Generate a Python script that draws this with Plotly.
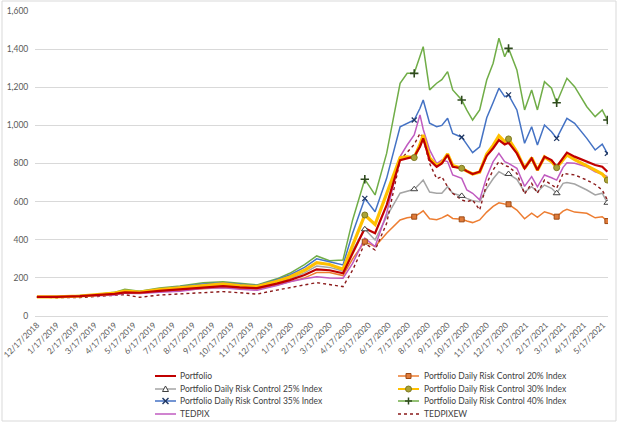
import plotly.graph_objects as go

dates = ["2018-12-17", "2019-01-17", "2019-02-22", "2019-03-17", "2019-04-17", "2019-05-03",
         "2019-05-26", "2019-06-26", "2019-07-28", "2019-09-02", "2019-10-03", "2019-10-29",
         "2019-11-25", "2019-12-26", "2020-01-15", "2020-02-07", "2020-02-26", "2020-03-17",
         "2020-04-07", "2020-04-22", "2020-05-11", "2020-05-27", "2020-06-14", "2020-07-05",
         "2020-07-16", "2020-07-27", "2020-08-05", "2020-08-10", "2020-08-20", "2020-08-31",
         "2020-09-08", "2020-09-17", "2020-09-25", "2020-10-09", "2020-10-17", "2020-10-26",
         "2020-11-06", "2020-11-17", "2020-11-27", "2020-12-06", "2020-12-15", "2020-12-21",
         "2021-01-03", "2021-01-15", "2021-01-26", "2021-02-04", "2021-02-15", "2021-02-26",
         "2021-03-06", "2021-03-16", "2021-03-22", "2021-04-03", "2021-04-22", "2021-05-05",
         "2021-05-16", "2021-05-24"]

# dates where the series markers sit
marker_dates = ["2020-05-11", "2020-07-27", "2020-10-09", "2020-12-21", "2021-03-06", "2021-05-24"]

portfolio = [100, 100, 104, 108, 116, 124, 122, 132, 140, 152, 157, 150, 146, 170, 188, 215, 245, 240,
             224, 329, 460, 434, 582, 818, 827, 836, 888, 932, 818, 783, 800, 845, 783, 775, 760, 745,
             757, 840, 880, 923, 900, 909, 853, 775, 827, 766, 836, 818, 783, 830, 857, 836, 810, 792,
             783, 757]
rc20 = [100, 100, 104, 108, 114, 122, 120, 128, 135, 146, 150, 145, 142, 162, 178, 200, 228, 228,
        212, 300, 390, 364, 434, 504, 515, 521, 540, 552, 510, 505, 515, 530, 512, 507, 498, 490,
        504, 545, 575, 594, 588, 586, 556, 510, 539, 518, 547, 535, 521, 550, 560, 545, 539, 515,
        521, 498]
rc25 = [100, 100, 105, 109, 118, 127, 124, 134, 143, 157, 162, 155, 150, 176, 196, 226, 262, 255,
        236, 345, 455, 399, 521, 644, 655, 665, 695, 713, 650, 644, 644, 678, 644, 630, 617, 605,
        600, 670, 720, 757, 740, 745, 717, 650, 678, 652, 687, 670, 644, 696, 700, 692, 661, 635,
        644, 594]
rc30 = [100, 100, 105, 110, 120, 130, 126, 138, 148, 162, 168, 160, 154, 182, 205, 240, 280, 270,
        245, 370, 530, 480, 640, 830, 835, 831, 900, 950, 830, 790, 805, 850, 790, 775, 760, 745,
        755, 850, 895, 945, 915, 929, 860, 775, 830, 765, 835, 810, 778, 820, 845, 820, 790, 765,
        745, 713]
rc35 = [100, 101, 106, 111, 122, 134, 128, 142, 153, 168, 174, 166, 160, 190, 215, 255, 300, 285,
        268, 434, 617, 547, 722, 993, 1010, 1028, 1090, 1133, 1011, 993, 1000, 1037, 958, 938, 900, 857,
        888, 1040, 1120, 1195, 1151, 1160, 1081, 906, 993, 897, 1002, 967, 932, 1000, 1037, 1011, 932, 871,
        902, 853]
rc40 = [100, 101, 107, 112, 124, 140, 130, 147, 158, 174, 180, 171, 163, 195, 224, 270, 315, 290,
        294, 504, 717, 635, 853, 1221, 1273, 1273, 1360, 1413, 1186, 1221, 1240, 1282, 1186, 1133, 1080, 1028,
        1081, 1238, 1326, 1457, 1360, 1404, 1291, 1081, 1186, 1081, 1229, 1195, 1119, 1200, 1247, 1203, 1098, 1046,
        1081, 1028]
tedpix = [100, 99, 102, 105, 110, 120, 118, 124, 130, 145, 148, 140, 135, 160, 180, 195, 206, 200,
          198, 276, 408, 364, 539, 836, 897, 950, 1055, 980, 871, 800, 818, 810, 740, 722, 661, 644,
          609, 731, 810, 853, 810, 801, 775, 680, 731, 678, 740, 725, 713, 780, 804, 801, 783, 757,
          745, 731]
tedpixew = [100, 96, 97, 101, 108, 112, 98, 110, 116, 124, 128, 122, 115, 136, 149, 165, 175, 165,
            154, 241, 381, 346, 486, 818, 860, 900, 958, 930, 800, 720, 731, 678, 644, 609, 600, 609,
            556, 696, 766, 810, 790, 783, 748, 640, 696, 644, 713, 690, 670, 748, 745, 740, 713, 690,
            661, 609]

tick_dates = ["2018-12-17", "2019-01-17", "2019-02-17", "2019-03-17", "2019-04-17", "2019-05-17",
              "2019-06-17", "2019-07-17", "2019-08-17", "2019-09-17", "2019-10-17", "2019-11-17",
              "2019-12-17", "2020-01-17", "2020-02-17", "2020-03-17", "2020-04-17", "2020-05-17",
              "2020-06-17", "2020-07-17", "2020-08-17", "2020-09-17", "2020-10-17", "2020-11-17",
              "2020-12-17", "2021-01-17", "2021-02-17", "2021-03-17", "2021-04-17", "2021-05-17"]
tick_text = ["12/17/2018", "1/17/2019", "2/17/2019", "3/17/2019", "4/17/2019", "5/17/2019",
             "6/17/2019", "7/17/2019", "8/17/2019", "9/17/2019", "10/17/2019", "11/17/2019",
             "12/17/2019", "1/17/2020", "2/17/2020", "3/17/2020", "4/17/2020", "5/17/2020",
             "6/17/2020", "7/17/2020", "8/17/2020", "9/17/2020", "10/17/2020", "11/17/2020",
             "12/17/2020", "1/17/2021", "2/17/2021", "3/17/2021", "4/17/2021", "5/17/2021"]

FONT = "Lato"
W, H = 622, 424
L, R, T, B = 35, 14, 11, 108

# name, data, line color, width, dash, marker dict (or None)
series = [
    ("Portfolio", portfolio, "#C00000", 2.2, "solid", None),
    ("Portfolio Daily Risk Control 20% Index", rc20, "#ED7D31", 1.5, "solid",
     dict(symbol="square", size=5, color="#E07B3A", line=dict(color="#9C4A14", width=1))),
    ("Portfolio Daily Risk Control 25% Index", rc25, "#A5A5A5", 1.5, "solid",
     dict(symbol="triangle-up", size=6, color="white", line=dict(color="#404040", width=1))),
    ("Portfolio Daily Risk Control 30% Index", rc30, "#FFC000", 3.2, "solid",
     dict(symbol="circle", size=6, color="#A9A238", line=dict(color="#7F7A20", width=1))),
    ("Portfolio Daily Risk Control 35% Index", rc35, "#4472C4", 1.5, "solid",
     dict(symbol="x-thin", size=5, color="#203864", line=dict(color="#203864", width=1.3))),
    ("Portfolio Daily Risk Control 40% Index", rc40, "#70AD47", 1.5, "solid",
     dict(symbol="cross-thin", size=6, color="#2F4A1E", line=dict(color="#2F4A1E", width=1.6))),
    ("TEDPIX", tedpix, "#C05BC0", 1.5, "solid", None),
    ("TEDPIXEW", tedpixew, "#8B1A1A", 1.4, "dot", None),
]

draw_order = [5, 4, 2, 1, 7, 6, 3, 0]

fig = go.Figure()
for i in draw_order:
    name, vals, col, w, dash, mk = series[i]
    fig.add_trace(go.Scatter(x=dates, y=vals, mode="lines", name=name, showlegend=False,
                             line=dict(color=col, width=w, dash=dash)))
for i in draw_order:
    name, vals, col, w, dash, mk = series[i]
    if mk is None:
        continue
    mx = [d for d in dates if d in marker_dates]
    my = [v for d, v in zip(dates, vals) if d in marker_dates]
    fig.add_trace(go.Scatter(x=mx, y=my, mode="markers", showlegend=False, marker=mk))


def pxx(p):
    return (p - L) / (W - L - R)


def pxy(p):
    return (H - B - p) / (H - T - B)


# hand-built legend (two columns, Excel-like tight rows)
shapes = []
annotations = []
rows = [376, 389, 401, 414]
cols = [(155, 176, 178), (398, 419, 422)]
for k, (name, vals, col, w, dash, mk) in enumerate(series):
    x0, x1, xt = cols[k % 2]
    yy = rows[k // 2]
    lw = 2 if w > 2 else 1.5
    shapes.append(dict(type="line", xref="paper", yref="paper", x0=pxx(x0), x1=pxx(x1),
                       y0=pxy(yy), y1=pxy(yy), line=dict(color=col, width=lw, dash=dash)))
    cx = (x0 + x1) / 2
    if mk is not None:
        s = mk["symbol"]
        mc = mk["color"]
        lc = mk["line"]["color"]
        if s == "square":
            shapes.append(dict(type="rect", xref="paper", yref="paper", x0=pxx(cx - 2.5), x1=pxx(cx + 2.5),
                               y0=pxy(yy + 2.5), y1=pxy(yy - 2.5), fillcolor=mc, line=dict(color=lc, width=1)))
        elif s == "circle":
            shapes.append(dict(type="circle", xref="paper", yref="paper", x0=pxx(cx - 3), x1=pxx(cx + 3),
                               y0=pxy(yy + 3), y1=pxy(yy - 3), fillcolor=mc, line=dict(color=lc, width=1)))
        elif s == "triangle-up":
            path = "M %f %f L %f %f L %f %f Z" % (pxx(cx - 3), pxy(yy + 2.5), pxx(cx + 3), pxy(yy + 2.5),
                                                 pxx(cx), pxy(yy - 3))
            shapes.append(dict(type="path", xref="paper", yref="paper", path=path, fillcolor=mc,
                               line=dict(color=lc, width=1)))
        elif s == "x-thin":
            for d in (1, -1):
                shapes.append(dict(type="line", xref="paper", yref="paper", x0=pxx(cx - 3), x1=pxx(cx + 3),
                                   y0=pxy(yy - 3 * d), y1=pxy(yy + 3 * d), line=dict(color=lc, width=1.5)))
        elif s == "cross-thin":
            shapes.append(dict(type="line", xref="paper", yref="paper", x0=pxx(cx - 3.5), x1=pxx(cx + 3.5),
                               y0=pxy(yy), y1=pxy(yy), line=dict(color=lc, width=1.5)))
            shapes.append(dict(type="line", xref="paper", yref="paper", x0=pxx(cx), x1=pxx(cx),
                               y0=pxy(yy - 3.5), y1=pxy(yy + 3.5), line=dict(color=lc, width=1.5)))
    annotations.append(dict(text=name, xref="paper", yref="paper", x=pxx(xt), y=pxy(yy),
                            xanchor="left", yanchor="middle", showarrow=False,
                            font=dict(family=FONT, size=8.5, color="#404040")))

# chart area border
shapes.append(dict(type="rect", xref="paper", yref="paper", x0=pxx(2), x1=pxx(616), y0=pxy(421), y1=pxy(1),
                   line=dict(color="#D9D9D9", width=1), fillcolor="rgba(0,0,0,0)", layer="below"))

fig.update_layout(
    width=W, height=H,
    margin=dict(l=L, r=R, t=T, b=B, autoexpand=False),
    paper_bgcolor="white", plot_bgcolor="white",
    font=dict(family=FONT, size=9, color="#595959"),
    showlegend=False,
    shapes=shapes,
    annotations=annotations,
)
fig.update_xaxes(
    type="date", range=["2018-12-14", "2021-05-25"], automargin=False,
    tickvals=tick_dates, ticktext=tick_text, tickangle=-45,
    showgrid=False, showline=True, linecolor="#D9D9D9", linewidth=1,
    ticks="", tickfont=dict(size=8.3, color="#595959"),
)
fig.update_yaxes(
    range=[0, 1600], dtick=200, tickformat=",", automargin=False,
    showgrid=True, gridcolor="#D9D9D9", gridwidth=1, zeroline=False,
    ticks="outside", ticklen=4, tickcolor="white",
    tickfont=dict(size=8.5, color="#595959"),
)

# drop the default page margin so the chart sits at the window's top-left corner
fig.write_html("out.html", config={"displayModeBar": False},
               post_script="document.body.style.margin='0';")
